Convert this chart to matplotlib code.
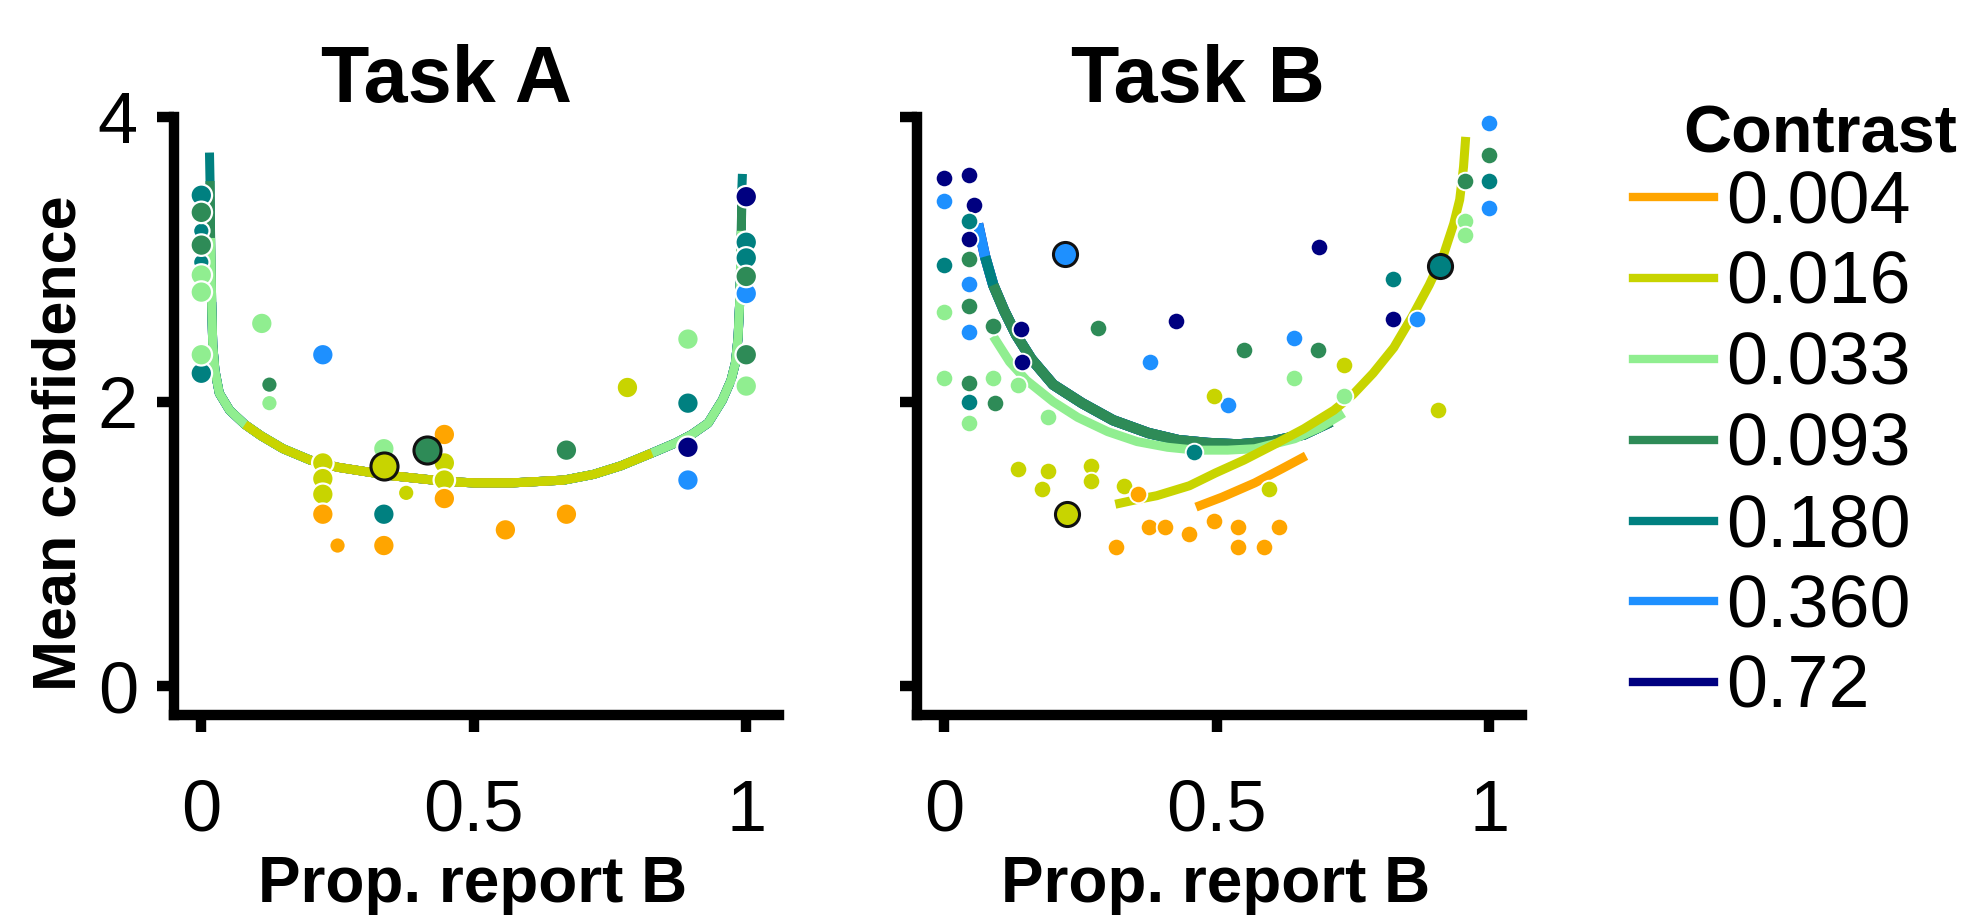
#!/usr/bin/env python3
"""Mean confidence vs proportion of B reports, Task A and Task B, by contrast."""
import matplotlib
matplotlib.use("Agg")
import matplotlib.pyplot as plt
from matplotlib.lines import Line2D

contrasts = ['0.004', '0.016', '0.033', '0.093', '0.180', '0.360', '0.72']
colors = ['#FFA500', '#C8D400', '#90EE90', '#2E8B57', '#008080', '#1E90FF', '#000080']

# ---- Task A: per-contrast points (x = prop. report B, y = mean confidence, big = large marker)
taskA_x = {
    '0.004': [0.223, 0.25, 0.335, 0.446, 0.446, 0.558, 0.670],
    '0.016': [0.223, 0.223, 0.223, 0.376, 0.446, 0.446, 0.782],
    '0.033': [0.0, 0.0, 0.0, 0.111, 0.125, 0.335, 0.893, 1.0],
    '0.093': [0.0, 0.0, 0.125, 0.670, 1.0, 1.0],
    '0.180': [0.0, 0.0, 0.0, 0.0, 0.335, 0.893, 1.0, 1.0],
    '0.360': [0.223, 0.893, 1.0],
    '0.72':  [0.893, 1.0],
}
taskA_y = {
    '0.004': [1.21, 0.99, 0.99, 1.77, 1.32, 1.10, 1.21],
    '0.016': [1.57, 1.46, 1.35, 1.36, 1.57, 1.45, 2.10],
    '0.033': [2.89, 2.77, 2.33, 2.55, 1.99, 1.67, 2.44, 2.11],
    '0.093': [3.33, 3.10, 2.12, 1.66, 2.88, 2.33],
    '0.180': [3.45, 3.20, 2.98, 2.20, 1.21, 1.99, 3.12, 3.01],
    '0.360': [2.33, 1.45, 2.76],
    '0.72':  [1.68, 3.44],
}
taskA_big = {
    '0.004': [1, 0, 1, 1, 1, 1, 1],
    '0.016': [1, 1, 1, 0, 1, 1, 1],
    '0.033': [1, 1, 1, 1, 0, 1, 1, 1],
    '0.093': [1, 1, 0, 1, 1, 1],
    '0.180': [1, 0, 0, 1, 1, 1, 1, 1],
    '0.360': [1, 1, 1],
    '0.72':  [1, 1],
}
# outlined (black-edged) points: contrast, x, y
taskA_outlined = [('0.016', 0.335, 1.55), ('0.093', 0.415, 1.66)]

# fitted curve, Task A (shared by all contrasts, each uses a slice)
taskA_curve_x = [0.015, 0.016, 0.017, 0.019, 0.021, 0.025, 0.033, 0.052, 0.08, 0.11,
                 0.15, 0.2, 0.25, 0.3, 0.35, 0.4, 0.45, 0.5, 0.57, 0.62,
                 0.666, 0.72, 0.77, 0.827, 0.87, 0.9, 0.93, 0.956, 0.972, 0.98,
                 0.985, 0.988, 0.990, 0.991, 0.992, 0.993]
taskA_curve_y = [3.75, 3.55, 3.15, 2.70, 2.40, 2.22, 2.06, 1.94, 1.84, 1.76,
                 1.67, 1.59, 1.54, 1.51, 1.48, 1.46, 1.44, 1.43, 1.43, 1.44,
                 1.45, 1.49, 1.55, 1.64, 1.71, 1.77, 1.85, 2.01, 2.15, 2.27,
                 2.45, 2.70, 3.00, 3.20, 3.50, 3.60]
taskA_span = {'0.72': (3, 33), '0.360': (3, 33), '0.180': (0, 36), '0.093': (1, 35),
              '0.033': (2, 34), '0.004': (11, 21), '0.016': (8, 24)}

# ---- Task B points
taskB_x = {
    '0.004': [0.355, 0.316, 0.376, 0.405, 0.45, 0.496, 0.54, 0.54, 0.586, 0.615],
    '0.016': [0.135, 0.19, 0.18, 0.27, 0.27, 0.33, 0.596, 0.733, 0.496, 0.906],
    '0.033': [0.0, 0.0, 0.09, 0.135, 0.045, 0.19, 0.641, 0.733, 0.955, 0.955],
    '0.093': [0.045, 0.045, 0.09, 0.045, 0.093, 0.283, 0.55, 0.686, 0.955, 1.0],
    '0.180': [0.045, 0.0, 0.045, 0.458, 0.823, 1.0],
    '0.360': [0.0, 0.045, 0.045, 0.378, 0.52, 0.641, 0.868, 1.0, 1.0],
    '0.72':  [0.0, 0.045, 0.055, 0.045, 0.14, 0.142, 0.425, 0.687, 0.823],
}
taskB_y = {
    '0.004': [1.35, 0.98, 1.12, 1.12, 1.07, 1.16, 1.12, 0.98, 0.98, 1.12],
    '0.016': [1.53, 1.51, 1.39, 1.55, 1.44, 1.41, 1.39, 2.26, 2.04, 1.94],
    '0.033': [2.63, 2.17, 2.17, 2.12, 1.85, 1.89, 2.17, 2.04, 3.27, 3.17],
    '0.093': [3.00, 2.67, 2.53, 2.13, 1.99, 2.52, 2.36, 2.36, 3.55, 3.73],
    '0.180': [3.27, 2.96, 2.00, 1.65, 2.86, 3.55],
    '0.360': [3.41, 2.83, 2.49, 2.28, 1.98, 2.45, 2.58, 3.96, 3.36],
    '0.72':  [3.57, 3.59, 3.38, 3.14, 2.51, 2.28, 2.57, 3.09, 2.58],
}
taskB_outlined = [('0.360', 0.221, 3.04), ('0.180', 0.91, 2.95), ('0.016', 0.226, 1.21)]

# fitted curves, Task B
taskB_dark_x = [0.062, 0.075, 0.09, 0.11, 0.132, 0.16, 0.2, 0.253, 0.31, 0.375,
                0.43, 0.484, 0.54, 0.6, 0.66, 0.71]
taskB_dark_y = [3.25, 3.02, 2.82, 2.64, 2.47, 2.30, 2.12, 1.99, 1.87, 1.78,
                1.73, 1.71, 1.70, 1.72, 1.77, 1.86]
taskB_dark_span = {'0.72': (0, 16), '0.360': (0, 16), '0.180': (1, 16), '0.093': (2, 16)}
taskB_c033_x = [0.09, 0.12, 0.151, 0.2, 0.245, 0.3, 0.354, 0.41, 0.462, 0.52,
                0.57, 0.643, 0.69, 0.733]
taskB_c033_y = [2.46, 2.28, 2.15, 2.00, 1.89, 1.79, 1.72, 1.68, 1.66, 1.66,
                1.67, 1.74, 1.82, 1.92]
taskB_c016_x = [0.314, 0.35, 0.39, 0.45, 0.498, 0.55, 0.606, 0.66, 0.715, 0.75,
                0.787, 0.825, 0.859, 0.89, 0.917, 0.935, 0.946, 0.953, 0.957]
taskB_c016_y = [1.28, 1.31, 1.34, 1.41, 1.50, 1.59, 1.70, 1.81, 1.94, 2.05,
                2.20, 2.38, 2.60, 2.82, 3.04, 3.25, 3.42, 3.65, 3.86]
taskB_c004_x = [0.462, 0.51, 0.57, 0.62, 0.664]
taskB_c004_y = [1.26, 1.33, 1.43, 1.53, 1.62]

NARROW = ['Liberation Sans Narrow', 'Liberation Sans', 'DejaVu Sans']
BOLD = ['Liberation Sans', 'DejaVu Sans']
color_of = dict(zip(contrasts, colors))
draw_order = ['0.72', '0.360', '0.180', '0.093', '0.033', '0.016', '0.004']
curve_order_A = ['0.72', '0.360', '0.180', '0.093', '0.033', '0.004', '0.016']

fig = plt.figure(figsize=(19.69, 9.21), dpi=100)
axA = fig.add_axes([0.0884, 0.2237, 0.3072, 0.6493])
axB = fig.add_axes([0.4657, 0.2237, 0.3072, 0.6493])

# Task A curves
for c in curve_order_A:
    lo, hi = taskA_span[c]
    axA.plot(taskA_curve_x[lo:hi], taskA_curve_y[lo:hi], color=color_of[c], lw=6.5,
             solid_capstyle='butt', zorder=2, clip_on=False)
# Task A points
for c in draw_order:
    sizes = [240 if b else 140 for b in taskA_big[c]]
    axA.scatter(taskA_x[c], taskA_y[c], s=sizes, color=color_of[c], edgecolor='white',
                linewidth=1.6, zorder=3, clip_on=False)
for c, x, y in taskA_outlined:
    axA.scatter([x], [y], s=380, color=color_of[c], edgecolor='#111111', linewidth=2.2,
                zorder=4, clip_on=False)

# Task B curves
for c in ['0.72', '0.360', '0.180', '0.093']:
    lo, hi = taskB_dark_span[c]
    axB.plot(taskB_dark_x[lo:hi], taskB_dark_y[lo:hi], color=color_of[c], lw=7.5,
             solid_capstyle='butt', zorder=2, clip_on=False)
axB.plot(taskB_c033_x, taskB_c033_y, color=color_of['0.033'], lw=6.5,
         solid_capstyle='butt', zorder=2, clip_on=False)
axB.plot(taskB_c004_x, taskB_c004_y, color=color_of['0.004'], lw=6.5,
         solid_capstyle='butt', zorder=2, clip_on=False)
axB.plot(taskB_c016_x, taskB_c016_y, color=color_of['0.016'], lw=6.5,
         solid_capstyle='butt', zorder=2, clip_on=False)
# Task B points
for c in draw_order:
    axB.scatter(taskB_x[c], taskB_y[c], s=160, color=color_of[c], edgecolor='white',
                linewidth=1.4, zorder=3, clip_on=False)
for c, x, y in taskB_outlined:
    axB.scatter([x], [y], s=300, color=color_of[c], edgecolor='#111111', linewidth=2.2,
                zorder=4, clip_on=False)

for ax, title, tx in [(axA, 'Task A', 0.45), (axB, 'Task B', 0.464)]:
    ax.set_xlim(-0.05, 1.06)
    ax.set_ylim(-0.2, 4)
    for s in ['top', 'right']:
        ax.spines[s].set_visible(False)
    for s in ['left', 'bottom']:
        ax.spines[s].set_linewidth(7.5)
    ax.set_xticks([0, 0.5, 1], ['0', '0.5', '1'], fontsize=52, family=NARROW)
    ax.tick_params(axis='both', direction='out', length=12, width=7.5)
    ax.tick_params(axis='x', pad=34)
    ax.tick_params(axis='y', pad=14)
    ax.text(tx, 1.025, title, transform=ax.transAxes, ha='center', va='baseline',
            fontsize=57, fontweight='bold', family=BOLD)
    ax.set_xlabel('Prop. report B', fontsize=46, fontweight='bold', family=BOLD)
    ax.xaxis.set_label_coords(0.494, -0.313)
    ax.xaxis.label.set_va('baseline')

axA.set_yticks([0, 2, 4], ['0', '2', '4'], fontsize=52, family=NARROW)
axB.set_yticks([0, 2, 4], ['', '', ''])
axA.text(-0.188, 0.455, 'Mean confidence', transform=axA.transAxes, rotation=90,
         ha='center', va='center', fontsize=44, fontweight='bold', family=BOLD)

# legend
handles = [Line2D([], [], color=c, lw=6) for c in colors]
fig.legend(handles, contrasts, loc='center left', bbox_to_anchor=(0.8294, 0.5157),
           frameon=False, prop={'family': NARROW, 'size': 53}, handlelength=1.1,
           handletextpad=0.17, labelspacing=0.16, borderpad=0, borderaxespad=0)
fig.text(1683 / 1969, 0.834, 'Contrast', ha='left', va='baseline', fontsize=48,
         fontweight='bold', family=BOLD)

fig.savefig('out.png', dpi=100)
